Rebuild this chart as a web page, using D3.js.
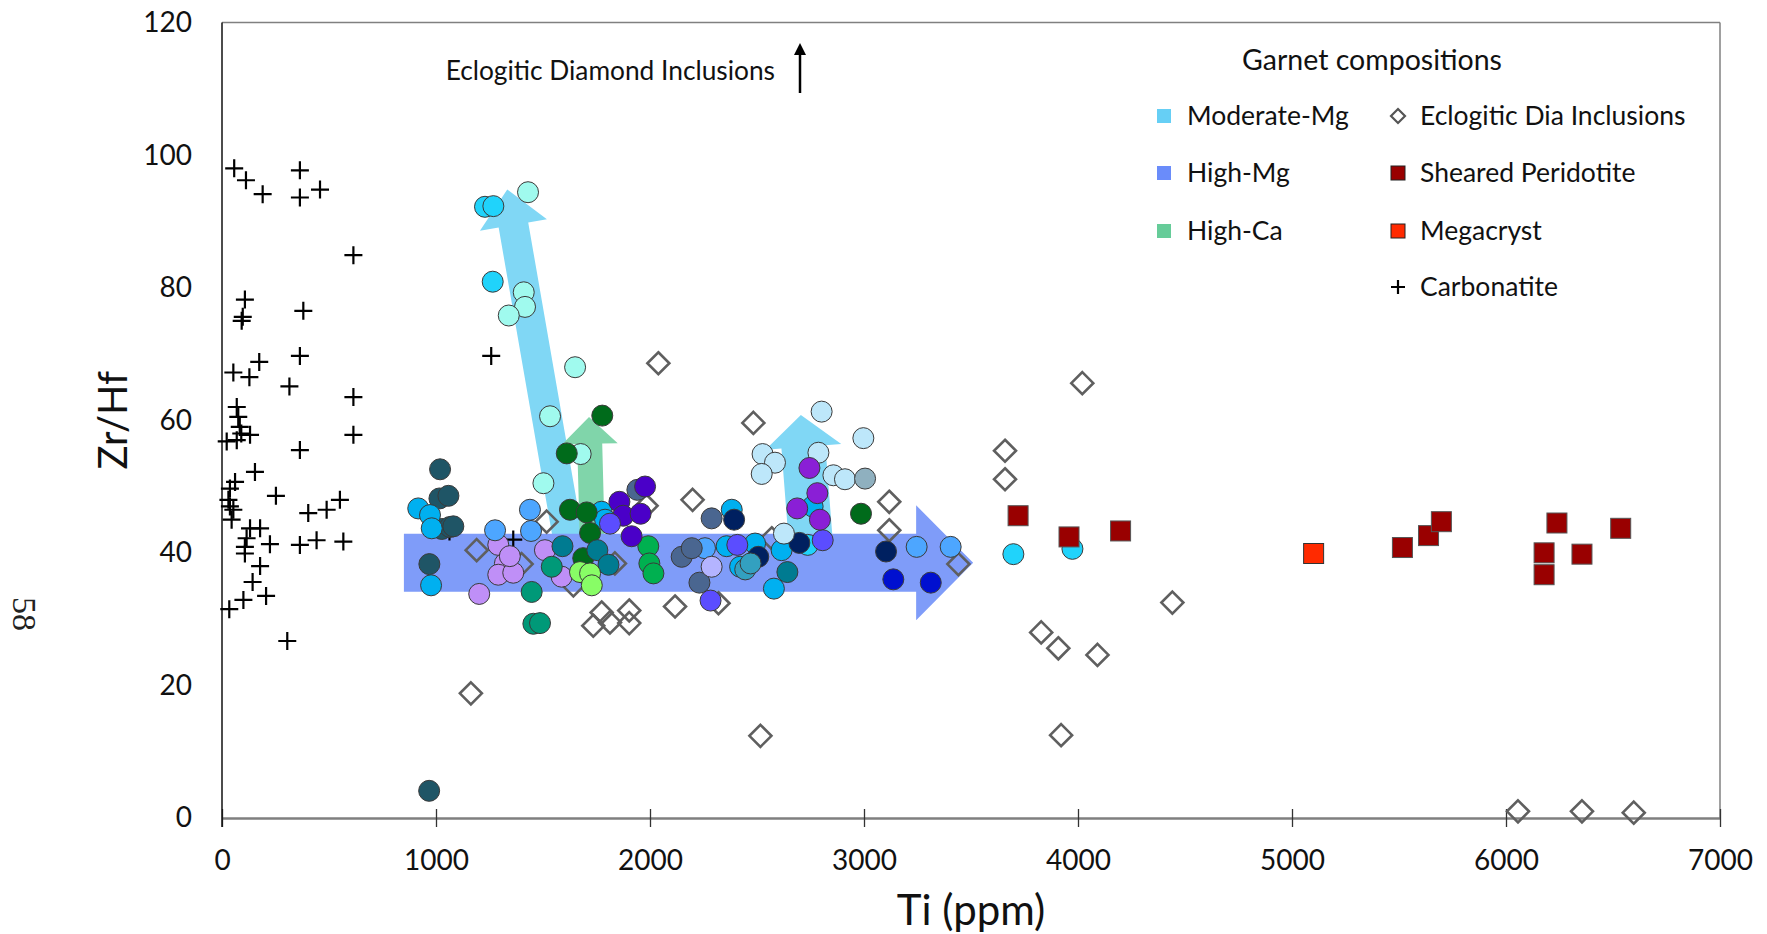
<!DOCTYPE html>
<html>
<head>
<meta charset="utf-8">
<script src="https://cdnjs.cloudflare.com/ajax/libs/d3/7.8.5/d3.min.js"></script>
<style>
    body { margin: 0; background: #fff; }
    svg { display: block; font-family: Lato, "Open Sans", sans-serif; }
</style>
</head>
<body>
<div id="chart"></div>
<script>
// axis ticks
var xTicks = [0, 1000, 2000, 3000, 4000, 5000, 6000, 7000];
var yTicks = [0, 20, 40, 60, 80, 100, 120];

// [Ti ppm, Zr/Hf]
var carbonatite = [[57,98.0],[112,96.2],[190,94.1],[364,97.7],[364,93.6],[458,94.8],[614,84.9],
    [107,78.2],[97,75.6],[92,75.0],[380,76.5],[53,67.2],[128,66.5],[174,68.8],[364,69.7],[315,65.1],
    [614,63.5],[614,57.8],[69,62.0],[76,60.5],[83,59.0],[131,57.8],[22,56.8],[69,57.0],[90,58.0],
    [364,55.5],[154,52.2],[61,50.7],[37,49.7],[252,48.6],[37,47.0],[53,46.5],[30,48.0],[45,45.0],
    [551,48.0],[489,46.5],[403,46.0],[131,43.7],[178,43.7],[115,42.2],[224,41.3],[107,40.9],
    [364,41.2],[442,41.9],[567,41.7],[107,39.9],[178,38.0],[143,35.6],[206,33.5],[100,32.9],
    [34,31.5],[305,26.7],[1258,69.7],[1063,43.2],[1361,42.0]];
var eclogiticDia = [[1163,18.8],[1190,40.4],[1400,38.3],[1517,44.7],[1642,35.1],[1735,29.0],[1774,31.0],
    [1813,29.5],[1903,31.3],[1903,29.4],[1836,38.4],[1984,47.1],[2039,68.6],[2117,31.9],[2199,48.0],
    [2320,32.4],[2483,59.6],[2516,12.4],[2569,42.2],[3118,47.7],[3118,43.4],[3441,38.3],[3659,55.4],
    [3659,51.1],[3828,28.0],[3908,25.6],[3921,12.5],[4020,65.6],[4091,24.6],[4441,32.5],[6056,1.0],
    [6355,1.0],[6597,0.8]];
var shearedPeridotite = [[3720,45.6],[3958,42.4],[4199,43.3],[5516,40.8],[5638,42.6],[5698,44.7],
    [6178,40.0],[6178,36.7],[6238,44.5],[6355,39.8],[6536,43.7]];
var megacryst = [[5101,39.9]];

// garnet samples, one array per colour
var darkTeal = [[1019,52.6],[1016,48.2],[1058,48.6],[1027,43.6],[1065,43.9],[1081,44.0],[969,38.3],[968,4.1]];
var cyanBlue = [[917,46.7],[972,45.7],[980,43.7],[977,35.1],[1774,46.2],[1790,45.0],[2382,46.5],[2358,41.0],
    [2491,41.4],[2615,40.4],[2579,34.6],[2421,37.9],[2760,47.0]];
var brightCyan = [[1229,92.2],[1268,92.3],[1265,80.9],[2737,41.2],[3698,39.8],[3974,40.6]];
var aqua = [[1430,94.4],[1410,79.3],[1416,77.1],[1340,75.8],[1650,68.0],[1533,60.6],[1676,54.9],[1502,50.5]];
var lavender = [[1291,41.2],[1322,38.4],[1291,36.7],[1361,37.0],[1345,39.5],[1202,33.8],[1509,40.4],[1587,36.4]];
var mediumBlue = [[1276,43.4],[1439,46.5],[1444,43.3],[2257,40.7],[3246,40.9],[3405,40.9]];
var tealGreen = [[1541,37.9],[1447,34.1],[1455,29.3],[1486,29.4]];
var darkGreen = [[1611,55.0],[1777,60.7],[1626,46.5],[1704,46.1],[1720,43.0],[1688,39.2],[2986,45.9]];
var teal = [[1591,41.0],[1754,40.4],[1806,38.2],[2642,37.1]];
var lime = [[1673,37.1],[1720,36.9],[1728,35.1]];
var green = [[1992,41.0],[1997,38.4],[2016,36.9]];
var slate = [[1941,49.5],[2288,45.2],[2148,39.4],[2195,40.7],[2231,35.5]];
var indigo = [[1977,50.0],[1857,47.7],[1875,45.6],[1956,45.9],[1914,42.5]];
var blueViolet = [[1813,44.4],[2408,41.2],[2283,32.8],[2807,41.9]];
var navy = [[2393,45.0],[2506,39.4],[2698,41.5],[3103,40.2]];
var periwinkle = [[2288,37.9]];
var steelTeal = [[2445,37.5],[2470,38.4]];
var paleBlue = [[2802,61.3],[2997,57.3],[2526,54.9],[2584,53.6],[2522,51.9],[2787,55.1],[2857,51.7],
    [2911,51.1],[2626,42.9]];
var violet = [[2745,52.8],[2782,49.0],[2688,46.7],[2794,45.0]];
var grayBlue = [[3005,51.2]];
var royalBlue = [[3137,36.0],[3312,35.5]];

// trend arrows: [from, to] in Ti / Zr/Hf units
var moderateMgArrow = [[1650,36],[1333,94.8]];
var highCaArrow = [[1735,36],[1715,60.5]];
var moderateMgArrow2 = [[2765,36],[2705,60.8]];
var highMgArrow = [[850,38.5],[3510,38.5]];

var legendLeft = ['Moderate-Mg', 'High-Mg', 'High-Ca'];
var legendRight = ['Eclogitic Dia Inclusions', 'Sheared Peridotite', 'Megacryst', 'Carbonatite'];

var width = 1767, height = 934;
var x = d3.scaleLinear().domain([0, 7000]).range([222, 1720]);
var y = d3.scaleLinear().domain([0, 120]).range([818, 22.5]);

var svg = d3.select('#chart').append('svg')
    .attr('width', width)
    .attr('height', height);
svg.append('rect').attr('width', width).attr('height', height).attr('fill', '#fff');

// frame
svg.append('line').attr('x1', x(0)).attr('x2', x(7000)).attr('y1', y(120)).attr('y2', y(120))
    .attr('stroke', '#808080').attr('stroke-width', 1.5);
svg.append('line').attr('x1', x(7000)).attr('x2', x(7000)).attr('y1', y(120)).attr('y2', y(0))
    .attr('stroke', '#808080').attr('stroke-width', 1.5);

// x axis
var xAxis = svg.append('g')
    .attr('transform', 'translate(0,' + y(0) + ')')
    .call(d3.axisBottom(x).tickValues(xTicks).tickFormat(d3.format('d'))
        .tickSize(9).tickPadding(23).tickSizeOuter(0));
xAxis.select('.domain').attr('stroke', '#7f7f7f').attr('stroke-width', 2.5);
xAxis.selectAll('.tick line').attr('y1', -9).attr('stroke', '#333').attr('stroke-width', 1.3);
xAxis.selectAll('.tick text').attr('font-size', 28).attr('fill', '#111').style('font-family', 'Lato, sans-serif');

// y axis
var yAxis = svg.append('g')
    .attr('transform', 'translate(' + x(0) + ',0)')
    .call(d3.axisLeft(y).tickValues(yTicks).tickSize(0).tickPadding(30));
yAxis.select('.domain').remove();
yAxis.selectAll('.tick text').attr('font-size', 28).attr('fill', '#111').style('font-family', 'Lato, sans-serif');
svg.append('line').attr('x1', x(0)).attr('x2', x(0)).attr('y1', y(120)).attr('y2', y(0) + 9)
    .attr('stroke', '#111').attr('stroke-width', 1.5);

// axis titles
svg.append('text').text('Ti (ppm)')
    .attr('x', (x(0) + x(7000)) / 2).attr('y', 910).attr('dy', '0.35em')
    .attr('text-anchor', 'middle').attr('font-size', 42).attr('fill', '#111');
svg.append('text').text('Zr/Hf')
    .attr('transform', 'translate(113,' + (y(0) + y(120)) / 2 + ') rotate(-90)')
    .attr('dy', '0.35em')
    .attr('text-anchor', 'middle').attr('font-size', 40).attr('fill', '#111');
// page number
svg.append('text').text('58')
    .attr('transform', 'translate(25,614) rotate(90)')
    .attr('dy', '0.35em')
    .attr('text-anchor', 'middle').attr('font-size', 34)
    .style('font-family', '"Liberation Serif", serif').attr('fill', '#222');

// draw arrows
function arrowPath(pts, shaft, headW, headL) {
    var x0 = x(pts[0][0]), y0 = y(pts[0][1]), x1 = x(pts[1][0]), y1 = y(pts[1][1]);
    var len = Math.sqrt((x1 - x0) * (x1 - x0) + (y1 - y0) * (y1 - y0));
    var ux = (x1 - x0) / len, uy = (y1 - y0) / len;
    var nx = -uy, ny = ux;
    var bx = x1 - ux * headL, by = y1 - uy * headL;
    var p = d3.path();
    p.moveTo(x0 + nx * shaft / 2, y0 + ny * shaft / 2);
    p.lineTo(bx + nx * shaft / 2, by + ny * shaft / 2);
    p.lineTo(bx + nx * headW / 2, by + ny * headW / 2);
    p.lineTo(x1, y1);
    p.lineTo(bx - nx * headW / 2, by - ny * headW / 2);
    p.lineTo(bx - nx * shaft / 2, by - ny * shaft / 2);
    p.lineTo(x0 - nx * shaft / 2, y0 - ny * shaft / 2);
    p.closePath();
    return p.toString();
}
svg.append('path').attr('d', arrowPath(moderateMgArrow, 30, 68, 36)).attr('fill', '#80d7f5');
svg.append('path').attr('d', arrowPath(highCaArrow, 25, 56, 27)).attr('fill', '#80d5aa');
svg.append('path').attr('d', arrowPath(moderateMgArrow2, 44, 76, 32)).attr('fill', '#80d7f5');
svg.append('path').attr('d', arrowPath(highMgArrow, 58, 115, 57)).attr('fill', '#7f9cf9');

// markers
var diamondPath = 'M0,-11L11,0L0,11L-11,0Z';
var crossPath = 'M-9,0H9M0,-9V9';

svg.append('g').selectAll('path').data(eclogiticDia).enter().append('path')
    .attr('d', diamondPath)
    .attr('transform', function (d) { return 'translate(' + x(d[0]) + ',' + y(d[1]) + ')'; })
    .attr('fill', 'none').attr('stroke', '#5f5f5f').attr('stroke-width', 2.6);

svg.append('g').selectAll('path').data(carbonatite).enter().append('path')
    .attr('d', crossPath)
    .attr('transform', function (d) { return 'translate(' + x(d[0]) + ',' + y(d[1]) + ')'; })
    .attr('stroke', '#000').attr('stroke-width', 2.2);

var circleGroups = [
    [darkTeal, '#1f5566'], [cyanBlue, '#00b0f0'], [brightCyan, '#20d3fb'], [aqua, '#a0faee'],
    [lavender, '#bf8ff7'], [mediumBlue, '#4da6ff'], [tealGreen, '#009978'], [darkGreen, '#006b1b'],
    [teal, '#007b91'], [lime, '#88fd66'], [green, '#00b050'], [slate, '#4a6690'], [indigo, '#4a00c8'],
    [blueViolet, '#5b4dff'], [navy, '#002060'], [periwinkle, '#b4b4ff'], [steelTeal, '#33a0c0'],
    [paleBlue, '#bde7fa'], [violet, '#8a1fd6'], [grayBlue, '#8fb0bf'], [royalBlue, '#0010d0']
];
circleGroups.forEach(function (g) {
    svg.append('g').selectAll('circle').data(g[0]).enter().append('circle')
        .attr('cx', function (d) { return x(d[0]); })
        .attr('cy', function (d) { return y(d[1]); })
        .attr('r', 10.5)
        .attr('fill', g[1]).attr('stroke', '#3a3a3a').attr('stroke-width', 1);
});

svg.append('g').selectAll('rect').data(shearedPeridotite).enter().append('rect')
    .attr('x', function (d) { return x(d[0]) - 10; })
    .attr('y', function (d) { return y(d[1]) - 10; })
    .attr('width', 20).attr('height', 20)
    .attr('fill', '#990000').attr('stroke', '#555').attr('stroke-width', 1);
svg.append('g').selectAll('rect').data(megacryst).enter().append('rect')
    .attr('x', function (d) { return x(d[0]) - 10; })
    .attr('y', function (d) { return y(d[1]) - 10; })
    .attr('width', 20).attr('height', 20)
    .attr('fill', '#ff2a00').attr('stroke', '#333').attr('stroke-width', 1);

// annotation
svg.append('text').text('Eclogitic Diamond Inclusions')
    .attr('x', 775).attr('y', 71).attr('dy', '0.35em')
    .attr('text-anchor', 'end').attr('font-size', 26.3).attr('fill', '#111');
svg.append('line').attr('x1', 800).attr('x2', 800).attr('y1', 93).attr('y2', 50)
    .attr('stroke', '#000').attr('stroke-width', 2.5);
svg.append('path').attr('d', 'M800,43L806,55L794,55Z').attr('fill', '#000');

// legend
svg.append('text').text('Garnet compositions')
    .attr('x', 1372).attr('y', 60).attr('dy', '0.35em')
    .attr('text-anchor', 'middle').attr('font-size', 28.5).attr('fill', '#111');
var rowY = [116, 173, 231, 287];
var leftColors = ['#66cff5', '#6a8cfa', '#66cc99'];
legendLeft.forEach(function (name, i) {
    svg.append('rect').attr('x', 1157).attr('y', rowY[i] - 7).attr('width', 14).attr('height', 14)
        .attr('fill', leftColors[i]);
    svg.append('text').text(name).attr('x', 1187).attr('y', rowY[i]).attr('dy', '0.35em')
        .attr('font-size', 26.5).attr('fill', '#111');
});
legendRight.forEach(function (name, i) {
    var cx = 1398, cy = rowY[i];
    if (i === 0) {
        svg.append('path').attr('d', 'M0,-7L7,0L0,7L-7,0Z').attr('transform', 'translate(' + cx + ',' + cy + ')')
            .attr('fill', 'none').attr('stroke', '#555').attr('stroke-width', 2.2);
    } else if (i === 3) {
        svg.append('path').attr('d', 'M-7,0H7M0,-7V7').attr('transform', 'translate(' + cx + ',' + cy + ')')
            .attr('stroke', '#000').attr('stroke-width', 2.2);
    } else {
        svg.append('rect').attr('x', cx - 7).attr('y', cy - 7).attr('width', 14).attr('height', 14)
            .attr('fill', i === 1 ? '#990000' : '#ff2a00').attr('stroke', '#222').attr('stroke-width', 1);
    }
    svg.append('text').text(name).attr('x', 1420).attr('y', cy).attr('dy', '0.35em')
        .attr('font-size', 26.5).attr('fill', '#111');
});
</script>
</body>
</html>
